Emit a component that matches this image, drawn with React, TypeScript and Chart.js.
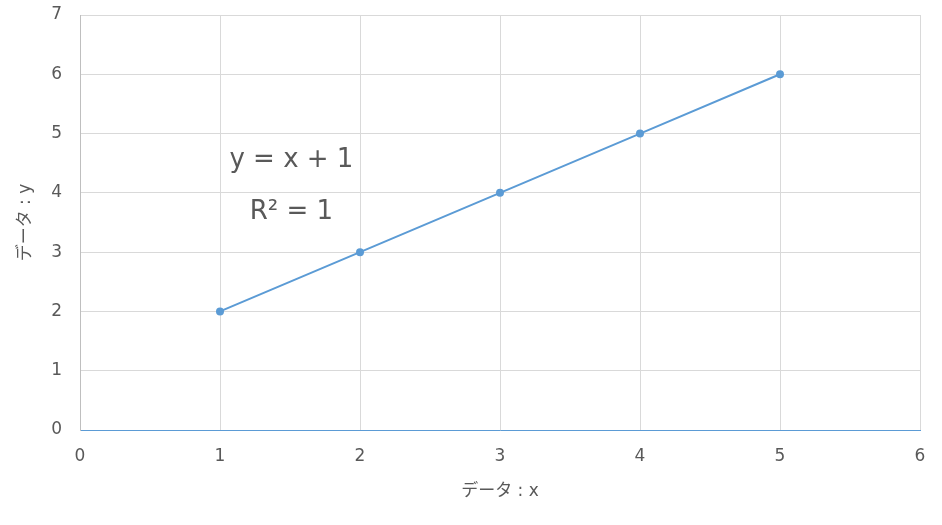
import React, { useEffect, useRef } from 'react';
import { Chart, registerables } from 'chart.js';

Chart.register(...registerables);

// data
const xValues = [1, 2, 3, 4, 5];
const yValues = [2, 3, 4, 5, 6];
const equationLines = ['y = x + 1', 'R² = 1'];
const equationAnchors = [
  { x: 1.51, y: 4.55 },
  { x: 1.51, y: 3.67 },
];

const FONT = "'DejaVu Sans', 'Noto Sans CJK JP', sans-serif";
const TEXT = '#595959';
const BLUE = '#5b9bd5';

const App: React.FC = () => {
  const canvasRef = useRef<HTMLCanvasElement>(null);

  useEffect(() => {
    document.body.style.margin = '0';
    const ctx = canvasRef.current?.getContext('2d');
    if (!ctx) return;

    // 近似曲線の数式ラベル
    const equationPlugin = {
      id: 'equation',
      afterDatasetsDraw(chart: any) {
        const { ctx: c, scales } = chart;
        c.save();
        c.font = `26px ${FONT}`;
        c.fillStyle = TEXT;
        c.textAlign = 'center';
        c.textBaseline = 'middle';
        equationLines.forEach((t, i) => {
          const a = equationAnchors[i];
          c.fillText(t, scales.x.getPixelForValue(a.x), scales.y.getPixelForValue(a.y));
        });
        c.restore();
      },
    };

    const chart = new Chart(ctx, {
      type: 'scatter',
      data: {
        datasets: [
          {
            data: xValues.map((x, i) => ({ x, y: yValues[i] })),
            showLine: true,
            borderColor: BLUE,
            backgroundColor: BLUE,
            borderWidth: 2,
            pointRadius: 4,
            pointBorderWidth: 0,
          },
        ],
      },
      options: {
        animation: false,
        responsive: false,
        layout: { padding: { top: 0, right: 22, left: 0, bottom: 0 } },
        plugins: { legend: { display: false }, tooltip: { enabled: false } },
        scales: {
          x: {
            type: 'linear',
            min: 0,
            max: 6,
            ticks: { stepSize: 1, color: TEXT, padding: 16, font: { family: FONT, size: 17 } },
            grid: { color: '#d9d9d9', drawTicks: false },
            border: { color: BLUE, width: 1 },
            title: {
              display: true,
              text: 'データ : x',
              color: TEXT,
              font: { family: FONT, size: 17 },
              padding: { top: 23, bottom: 23 },
            },
            afterFit: (s: any) => { s.height = 95; },
          },
          y: {
            min: 0,
            max: 7,
            ticks: { stepSize: 1, color: TEXT, padding: 18, font: { family: FONT, size: 17 } },
            grid: { color: '#d9d9d9', drawTicks: false },
            border: { color: '#bfbfbf', width: 1 },
            title: {
              display: true,
              text: 'データ : y',
              color: TEXT,
              font: { family: FONT, size: 17 },
              padding: { top: 15, bottom: 15 },
            },
            afterFit: (s: any) => {
              s.width = 80;
              s.paddingTop = 15;
              s.paddingBottom = 0;
            },
          },
        },
      },
      plugins: [equationPlugin],
    });

    return () => chart.destroy();
  }, []);

  return (
    <div style={{ width: 942, height: 525, background: '#fff' }}>
      <canvas ref={canvasRef} width={942} height={525} />
    </div>
  );
};

export default App;
